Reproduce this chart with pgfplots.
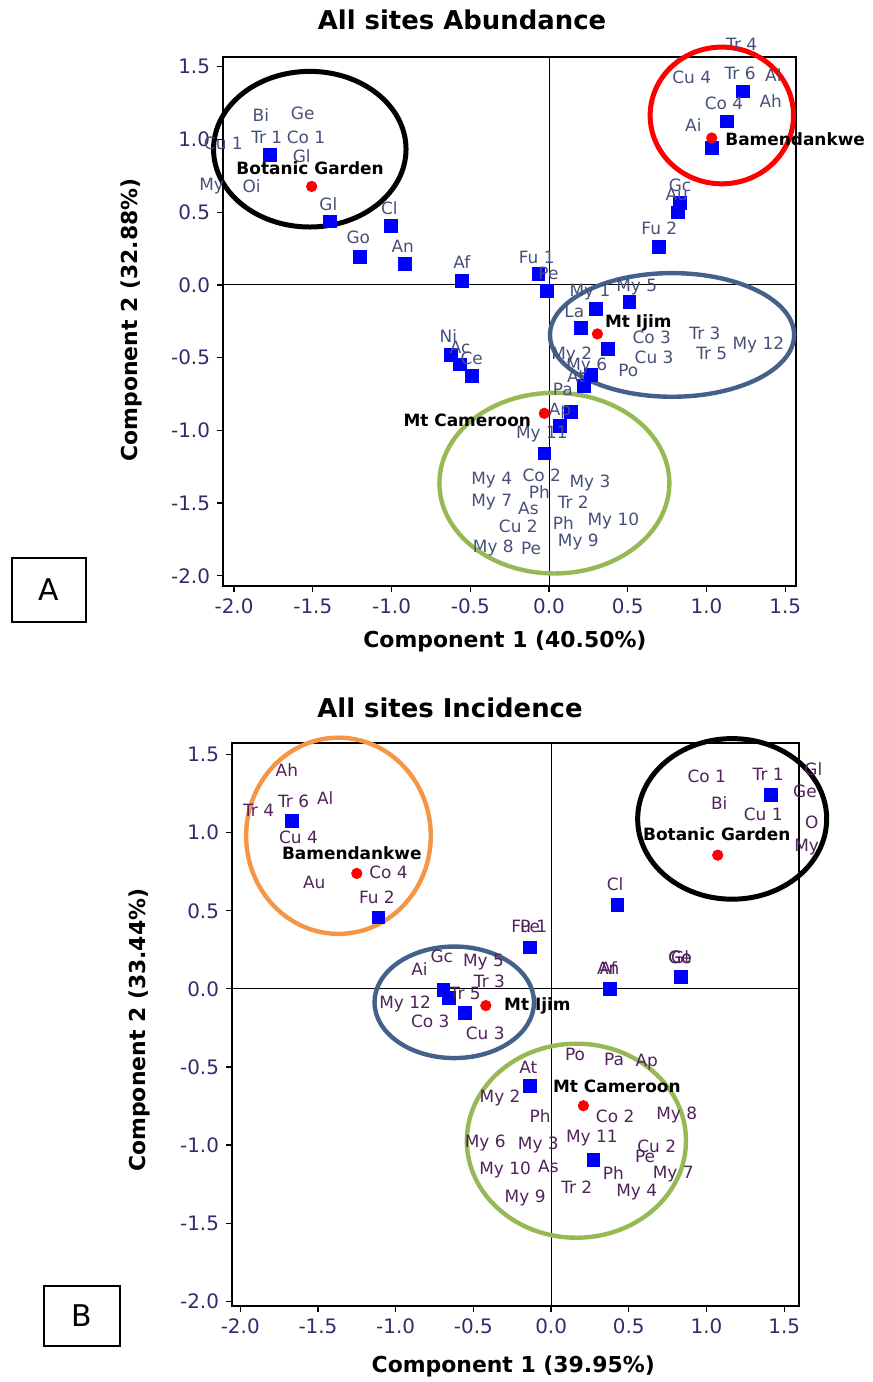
\documentclass[border=0pt]{standalone}
\usepackage{fontspec}
\setmainfont{DejaVu Sans}
\usepackage{pgfplots}
\pgfplotsset{compat=1.18}
\definecolor{tickcol}{RGB}{45,45,110}
\definecolor{labA}{RGB}{70,80,120}
\definecolor{labB}{RGB}{80,35,90}
\definecolor{ellblue}{RGB}{68,97,140}
\definecolor{ellgreen}{RGB}{150,185,85}
\definecolor{ellorange}{RGB}{245,150,70}

\pgfplotsset{
  pcastyle/.style={
    scale only axis, clip=false,
    xtick={-2,-1.5,...,1.5}, ytick={-2,-1.5,...,1.5},
    tick align=outside, xtick pos=left, ytick pos=left,
    major tick length=3bp,
    tick style={black, line width=0.6bp},
    axis line style={black, line width=0.8bp},
    ticklabel style={font=\fontsize{10}{12}\selectfont, text=tickcol},
    /pgf/number format/fixed,
    /pgf/number format/fixed zerofill,
    /pgf/number format/precision=1,
    /pgf/number format/assume math mode=true,
    label style={font=\bfseries\fontsize{11}{13}\selectfont},
  },
  lbls/.style={only marks, mark=none,
    nodes near coords={\lbl},
    visualization depends on={value \thisrow{lbl}\as\lbl},
    nodes near coords style={anchor=center, inner sep=0pt, font=\fontsize{8.5}{10}\selectfont, text=#1}},
  sitelbls/.style={only marks, mark=none,
    nodes near coords={\lbl},
    visualization depends on={value \thisrow{lbl}\as\lbl},
    nodes near coords style={anchor=#1, inner sep=0pt, font=\bfseries\fontsize{8.5}{10}\selectfont, text=black}},
  sq/.style={only marks, mark=square*, mark size=3.2bp, color=blue},
  rd/.style={only marks, mark=*, mark size=2.6bp, color=red},
}

\begin{document}
\begin{tikzpicture}
\useasboundingbox (0,0) rectangle (436.5bp,691bp);

% ---------------- A ----------------
\begin{axis}[pcastyle,
  at={(111.5bp,398bp)}, anchor=south west,
  width=286.5bp, height=264.5bp,
  xmin=-2.07, xmax=1.568, ymin=-2.07, ymax=1.567,
  xlabel={Component 1 (40.50\%)},
  ylabel={Component 2 (32.88\%)},
  xlabel style={at={(axis description cs:0.492,-0.104)}, anchor=center},
  ylabel style={at={(axis description cs:-0.160,0.503)}, anchor=center},
]
\addplot[black, line width=0.5bp, forget plot] coordinates {(0,-2.07) (0,1.567)};
\addplot[black, line width=0.5bp, forget plot] coordinates {(-2.07,0) (1.568,0)};
\draw[black, line width=2.5bp] (axis cs:-1.519,0.933) ellipse [x radius=0.611, y radius=0.535];
\draw[red, line width=2.5bp] (axis cs:1.097,1.165) ellipse [x radius=0.455, y radius=0.470];
\draw[ellblue, line width=2.2bp] (axis cs:0.781,-0.344) ellipse [x radius=0.775, y radius=0.425];
\draw[ellgreen, line width=2.2bp] (axis cs:0.034,-1.363) ellipse [x radius=0.730, y radius=0.621];
\addplot[sq] coordinates {
(-1.771,0.895) (-1.39,0.436) (-1.003,0.406) (-1.2,0.195) (-0.914,0.145)
(-0.554,0.030) (-0.068,0.074) (-0.015,-0.039) (1.230,1.330) (1.128,1.124)
(1.033,0.941) (0.832,0.566) (0.817,0.498) (0.70,0.259) (0.51,-0.115)
(0.298,-0.167) (0.203,-0.298) (0.373,-0.440) (-0.622,-0.482) (-0.565,-0.546)
(-0.491,-0.626) (0.267,-0.619) (0.222,-0.695) (0.138,-0.872) (0.07,-0.970)
(-0.03,-1.158)};
\addplot[rd] coordinates {(-1.507,0.677) (1.033,1.01) (0.307,-0.337) (-0.030,-0.883)};
\addplot[lbls=labA] table[x=x,y=y,col sep=comma] {
x,y,lbl
-1.830,1.170,Bi
-1.564,1.177,Ge
-1.792,1.014,Tr 1
-1.543,1.014,Co 1
-2.068,0.975,Cu 1
-1.570,0.888,Gl
-2.142,0.677,My
-1.888,0.677,Oi
-1.401,0.557,Gl
-1.014,0.528,Cl
-1.211,0.328,Go
-0.929,0.264,An
-0.554,0.160,Af
-0.078,0.191,Fu 1
-0.004,0.081,Pe
1.223,1.652,Tr 4
0.906,1.429,Cu 4
1.213,1.457,Tr 6
1.424,1.445,Al
1.111,1.251,Co 4
1.408,1.262,Ah
0.916,1.101,Ai
0.832,0.688,Gc
0.811,0.619,Au
0.700,0.390,Fu 2
0.557,-0.012,My 5
0.260,-0.046,My 1
0.161,-0.184,La
0.652,-0.360,Co 3
0.990,-0.332,Tr 3
1.329,-0.413,My 12
1.033,-0.470,Tr 5
0.667,-0.498,Cu 3
-0.639,-0.351,Ni
-0.565,-0.429,Ac
-0.491,-0.504,Ce
0.144,-0.482,My 2
0.239,-0.557,My 6
0.503,-0.590,Po
0.171,-0.626,At
0.087,-0.718,Pa
0.070,-0.865,Ap
-0.046,-1.028,My 11
-0.046,-1.308,Co 2
-0.364,-1.342,My 4
0.260,-1.365,My 3
-0.062,-1.423,Ph
-0.364,-1.491,My 7
0.154,-1.491,Tr 2
-0.131,-1.537,As
-0.195,-1.659,Cu 2
0.091,-1.640,Ph
0.408,-1.622,My 10
0.186,-1.767,My 9
-0.354,-1.812,My 8
-0.114,-1.812,Pe
};
\addplot[sitelbls=center] table[x=x,y=y,col sep=comma] {
x,y,lbl
-1.517,0.803,Botanic Garden
0.567,-0.264,Mt Ijim
-0.519,-0.929,Mt Cameroon
};
\addplot[sitelbls=west] table[x=x,y=y,col sep=comma] {
x,y,lbl
1.117,1.003,Bamendankwe
};
\end{axis}

% ---------------- B ----------------
\begin{axis}[pcastyle,
  at={(116bp,38bp)}, anchor=south west,
  width=283.5bp, height=281.5bp,
  xmin=-2.053, xmax=1.595, ymin=-2.03, ymax=1.574,
  xlabel={Component 1 (39.95\%)},
  ylabel={Component 2 (33.44\%)},
  xlabel style={at={(axis description cs:0.496,-0.1066)}, anchor=center},
  ylabel style={at={(axis description cs:-0.164,0.490)}, anchor=center},
]
\addplot[black, line width=0.5bp, forget plot] coordinates {(0,-2.03) (0,1.574)};
\addplot[black, line width=0.5bp, forget plot] coordinates {(-2.053,0) (1.595,0)};
\draw[ellorange, line width=2.2bp] (axis cs:-1.368,0.980) ellipse [x radius=0.594, y radius=0.628];
\draw[black, line width=2.5bp] (axis cs:1.165,1.088) ellipse [x radius=0.608, y radius=0.514];
\draw[ellblue, line width=2.2bp] (axis cs:-0.623,-0.086) ellipse [x radius=0.513, y radius=0.357];
\draw[ellgreen, line width=2.2bp] (axis cs:0.163,-0.972) ellipse [x radius=0.705, y radius=0.621];
\addplot[sq] coordinates {
(-1.668,1.075) (-1.111,0.458) (1.413,1.240) (0.427,0.537) (-0.135,0.266)
(0.379,0.0) (0.836,0.075) (-0.693,-0.006) (-0.656,-0.06) (-0.557,-0.155)
(-0.135,-0.620) (0.272,-1.093)};
\addplot[rd] coordinates {(-1.250,0.739) (1.072,0.856) (-0.420,-0.107) (0.208,-0.748)};
\addplot[lbls=labB] table[x=x,y=y,col sep=comma] {
x,y,lbl
-1.700,1.399,Ah
-1.657,1.203,Tr 6
-1.453,1.219,Al
-1.882,1.144,Tr 4
-1.625,0.969,Cu 4
-1.046,0.743,Co 4
-1.524,0.679,Au
-1.121,0.586,Fu 2
1.001,1.361,Co 1
1.397,1.372,Tr 1
1.687,1.404,Gl
1.633,1.267,Ge
1.082,1.190,Bi
1.365,1.116,Cu 1
1.677,1.063,O
1.644,0.909,My
0.412,0.671,Cl
-0.140,0.398,Fu 1
-0.135,0.398,Pe
0.368,0.132,Af
0.368,0.132,An
0.830,0.203,Gl
0.830,0.203,Ge
0.830,0.203,Go
-0.703,0.211,Gc
-0.847,0.126,Ai
-0.435,0.174,My 5
-0.397,0.047,Tr 3
-0.553,-0.032,Tr 5
-0.939,-0.096,My 12
-0.778,-0.209,Co 3
-0.424,-0.283,Cu 3
0.154,-0.422,Po
0.405,-0.449,Pa
0.615,-0.471,Ap
-0.146,-0.500,At
-0.328,-0.698,My 2
-0.071,-0.816,Ph
0.412,-0.816,Co 2
0.808,-0.805,My 8
-0.424,-0.986,My 6
-0.082,-0.997,My 3
0.262,-0.954,My 11
0.680,-1.008,Cu 2
0.605,-1.075,Pe
-0.296,-1.157,My 10
-0.017,-1.135,As
0.401,-1.182,Ph
0.786,-1.188,My 7
0.165,-1.267,Tr 2
0.551,-1.302,My 4
-0.167,-1.337,My 9
};
\addplot[sitelbls=center] table[x=x,y=y,col sep=comma] {
x,y,lbl
-1.282,0.871,Bamendankwe
1.066,0.990,Botanic Garden
-0.088,-0.109,Mt Ijim
0.423,-0.624,Mt Cameroon
};
\end{axis}

% titles and panel boxes
\node[font=\bfseries\fontsize{13}{15}\selectfont] at (231bp,681bp) {All sites Abundance};
\node[font=\bfseries\fontsize{13}{15}\selectfont] at (225bp,337bp) {All sites Incidence};
\draw[line width=0.8bp] (6bp,380bp) rectangle (43bp,412bp);
\node[font=\fontsize{15}{17}\selectfont] at (24.5bp,396bp) {A};
\draw[line width=0.8bp] (22bp,18bp) rectangle (60bp,48bp);
\node[font=\fontsize{15}{17}\selectfont] at (41bp,33bp) {B};
\end{tikzpicture}
\end{document}
